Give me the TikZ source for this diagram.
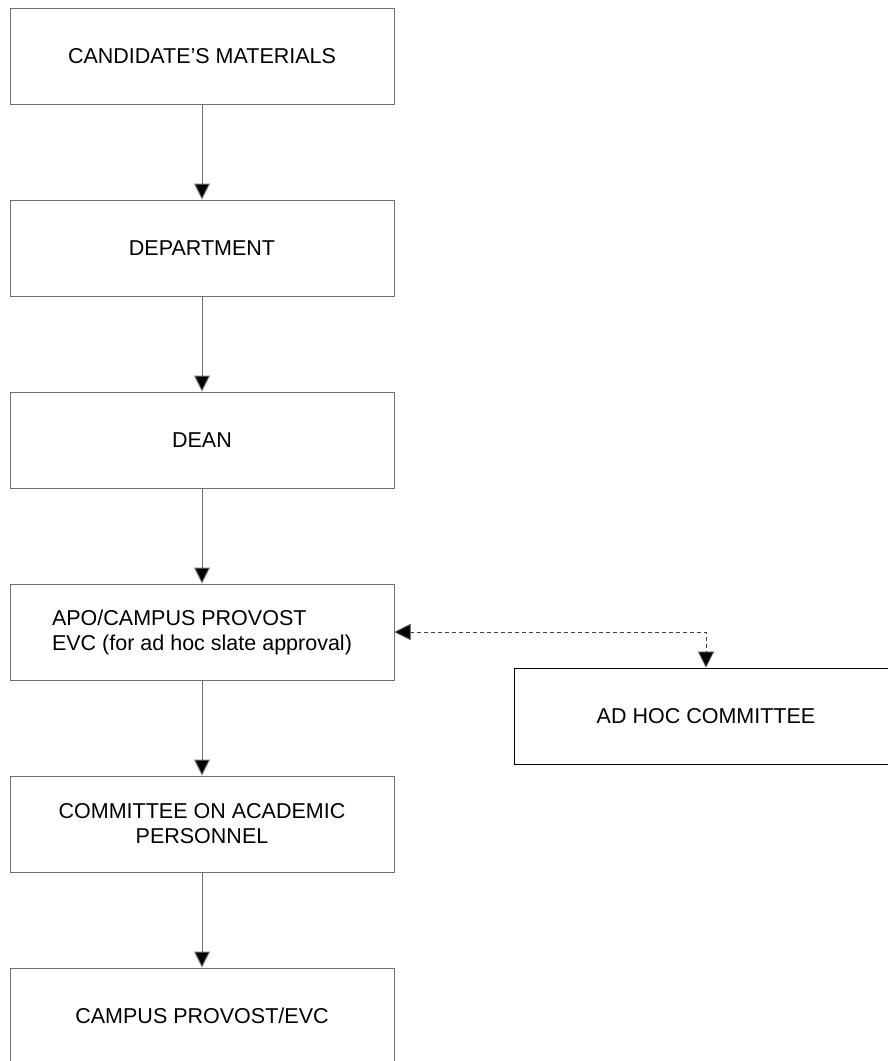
\documentclass[tikz,border=0pt]{standalone}
\usepackage{fontspec}
\setmainfont{Liberation Sans}
\usetikzlibrary{arrows.meta}
\definecolor{boxgray}{RGB}{112,112,112}
\begin{document}
\begin{tikzpicture}[x=1pt, y=-1pt, line width=1pt,
  main node/.style={rectangle,draw=boxgray,minimum width=384pt,minimum height=96pt,inner sep=0pt,align=center},%fill=white,
  flow/.style={draw=boxgray,-{Triangle[length=16pt,width=16pt,fill=black]}},
  dashflow/.style={draw=black!75,dash pattern=on 4pt off 3pt,{Triangle[length=16pt,width=16pt,fill=black]}-{Triangle[length=16pt,width=16pt,fill=black]}}]
\useasboundingbox (0,0) rectangle (887,1061);
\begin{scope}[every node/.style={font=\fontsize{21.5}{25}\selectfont}]
\node[main node] (cand) at (202,56) {CANDIDATE'S MATERIALS};
\node[main node] (dept) at (202,248) {DEPARTMENT};
\node[main node] (dean) at (202,440) {DEAN};
\node[main node,align=left] (apo) at (202,632) {APO/CAMPUS PROVOST\\EVC (for ad hoc slate approval)};
\node[main node] (cap) at (202,824) {COMMITTEE ON ACADEMIC\\PERSONNEL};
\node[main node] (evc) at (202,1016) {CAMPUS PROVOST/EVC};
\node[main node,draw=black] (adhoc) at (706,716) {AD HOC COMMITTEE};
%\node[main node] (x) at (,) {};
\end{scope}
\begin{scope}
\draw (cand) edge[flow] (dept);
\draw (dept) edge[flow] (dean);
\draw (dean) edge[flow] (apo);
\draw (apo) edge[flow] (cap);
\draw (cap) edge[flow] (evc);
\draw[dashflow] (apo.east) -| (adhoc.north);
\end{scope}
\end{tikzpicture}
\end{document}
